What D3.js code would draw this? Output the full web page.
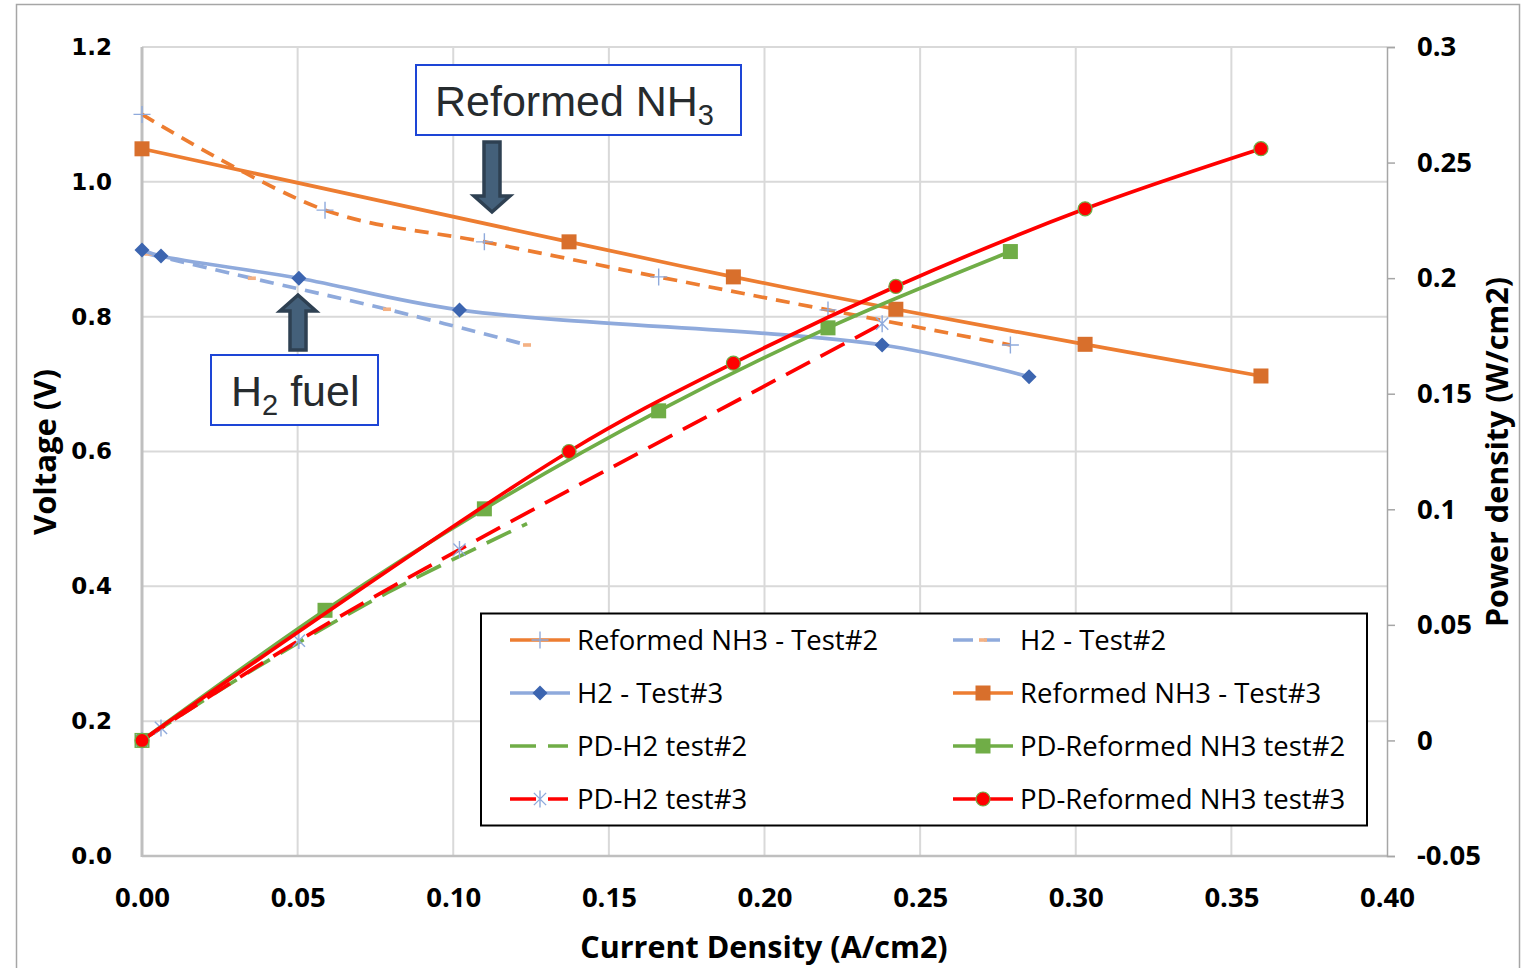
<!DOCTYPE html>
<html>
<head>
<meta charset="utf-8">
<script src="https://cdn.jsdelivr.net/npm/d3@7"></script>
<style>
  body { margin: 0; background: #fff; }
  svg { display: block; }
</style>
</head>
<body>
<svg id="chart" width="1535" height="968"></svg>
<script>
// ---- Polarization data (current density in A/cm2, voltage in V) ----
const reformedT2I = [0, 0.0588, 0.110, 0.166, 0.2204, 0.279];
const reformedT2V = [1.100, 0.958, 0.911, 0.859, 0.810, 0.758];

const h2T2I = [0.002, 0.0353, 0.0787, 0.1237];
const h2T2V = [0.893, 0.857, 0.811, 0.758];

const h2T3I = [0, 0.0061, 0.0504, 0.102, 0.2378, 0.285];
const h2T3V = [0.899, 0.890, 0.857, 0.810, 0.758, 0.711];

const reformedT3I = [0, 0.1372, 0.190, 0.2422, 0.303, 0.3595];
const reformedT3V = [1.049, 0.911, 0.859, 0.811, 0.759, 0.712];

// ---- Power density data (W/cm2) ----
const pdH2T2I = [0.002, 0.0353, 0.0787, 0.1237];
const pdH2T2P = [0.0018, 0.0303, 0.0638, 0.0938];

const pdReformedT2I = [0, 0.0588, 0.110, 0.166, 0.2204, 0.279];
const pdReformedT2P = [0, 0.0563, 0.1002, 0.1426, 0.1785, 0.2115];

const pdH2T3I = [0, 0.0061, 0.0504, 0.102, 0.2378];
const pdH2T3P = [0, 0.0054, 0.0432, 0.0826, 0.1803];

const pdReformedT3I = [0, 0.1372, 0.190, 0.2422, 0.303, 0.3595];
const pdReformedT3P = [0, 0.1250, 0.1632, 0.1964, 0.2300, 0.2560];

// ---- Axis ticks ----
const currentTicks = [0, 0.05, 0.10, 0.15, 0.20, 0.25, 0.30, 0.35, 0.40];
const voltTicks = [0, 0.2, 0.4, 0.6, 0.8, 1.0, 1.2];
const powerTicks = [-0.05, 0, 0.05, 0.1, 0.15, 0.2, 0.25, 0.3];
const powerTickLabels = ["-0.05", "0", "0.05", "0.1", "0.15", "0.2", "0.25", "0.3"];

// ---- Layout ----
const svg = d3.select("#chart");
const plot = { left: 142, right: 1387, top: 47, bottom: 856 };

const x = d3.scaleLinear().domain([0, 0.4]).range([plot.left, plot.right]);
const yV = d3.scaleLinear().domain([0, 1.2]).range([plot.bottom, plot.top]);
const yP = d3.scaleLinear().domain([-0.05, 0.3]).range([plot.bottom, plot.top]);

const tickFont = "'Open Sans', 'DejaVu Sans', sans-serif";

// outer frame
svg.append("rect")
  .attr("x", 16.5).attr("y", 4.5).attr("width", 1503).attr("height", 990)
  .attr("fill", "#fff").attr("stroke", "#a6a6a6").attr("stroke-width", 1.5);

// gridlines
const grid = svg.append("g").attr("class", "grid");
grid.selectAll("line.h").data(voltTicks.filter(d => d > 0)).join("line")
  .attr("class", "h")
  .attr("x1", plot.left).attr("x2", plot.right)
  .attr("y1", d => yV(d)).attr("y2", d => yV(d))
  .attr("stroke", "#d9d9d9").attr("stroke-width", 2);
grid.selectAll("line.v").data(currentTicks.filter(d => d > 0 && d < 0.4)).join("line")
  .attr("class", "v")
  .attr("y1", plot.top).attr("y2", plot.bottom)
  .attr("x1", d => x(d)).attr("x2", d => x(d))
  .attr("stroke", "#d9d9d9").attr("stroke-width", 2);

// axis lines
svg.append("line").attr("x1", plot.left).attr("x2", plot.left)
  .attr("y1", plot.top).attr("y2", plot.bottom + 1)
  .attr("stroke", "#bfbfbf").attr("stroke-width", 3);
svg.append("line").attr("x1", plot.left).attr("x2", plot.right)
  .attr("y1", plot.bottom).attr("y2", plot.bottom)
  .attr("stroke", "#bfbfbf").attr("stroke-width", 2.5);

// left axis (voltage)
const gLeft = svg.append("g").attr("transform", `translate(${plot.left},0)`)
  .call(d3.axisLeft(yV).tickValues(voltTicks).tickFormat(d3.format(".1f")).tickSize(0).tickPadding(30));
gLeft.select(".domain").remove();
gLeft.selectAll("text")
  .attr("font-family", "'DejaVu Sans', sans-serif").attr("font-weight", "bold")
  .attr("font-size", 23).attr("fill", "#000");

// bottom axis (current density)
const gBottom = svg.append("g").attr("transform", `translate(0,${plot.bottom})`)
  .call(d3.axisBottom(x).tickValues(currentTicks).tickFormat(d3.format(".2f")).tickSize(0).tickPadding(31));
gBottom.select(".domain").remove();
gBottom.selectAll("text")
  .attr("font-family", tickFont).attr("font-weight", "bold")
  .attr("font-size", 27.5).attr("fill", "#000");

// right axis (power density)
const gRight = svg.append("g").attr("transform", `translate(${plot.right},0)`)
  .call(d3.axisRight(yP).tickValues(powerTicks).tickFormat((d, i) => powerTickLabels[i]).tickSize(8).tickPadding(22));
gRight.select(".domain").attr("stroke", "#a6a6a6").attr("stroke-width", 1.5);
gRight.selectAll(".tick line").attr("stroke", "#a6a6a6").attr("stroke-width", 1.5);
gRight.selectAll("text")
  .attr("font-family", tickFont).attr("font-weight", "bold")
  .attr("font-size", 27.5).attr("fill", "#000");

// axis titles
svg.append("text")
  .attr("x", 764).attr("y", 958)
  .attr("text-anchor", "middle")
  .attr("font-family", tickFont).attr("font-weight", "bold").attr("font-size", 30.5)
  .text("Current Density (A/cm2)");
svg.append("text")
  .attr("transform", "translate(56,452) rotate(-90)")
  .attr("text-anchor", "middle")
  .attr("font-family", tickFont).attr("font-weight", "bold").attr("font-size", 31)
  .text("Voltage (V)");
svg.append("text")
  .attr("transform", "translate(1508,452) rotate(-90)")
  .attr("text-anchor", "middle")
  .attr("font-family", tickFont).attr("font-weight", "bold").attr("font-size", 30.5)
  .text("Power density (W/cm2)");

// ---- Marker shapes ----
const markers = {
  square: (g, s, c) => g.append("rect").attr("x", -s / 2).attr("y", -s / 2).attr("width", s).attr("height", s).attr("fill", c.fill),
  diamond: (g, s, c) => g.append("path").attr("d", `M0,${-s / 2}L${s / 2},0L0,${s / 2}L${-s / 2},0Z`).attr("fill", c.fill),
  circle: (g, s, c) => g.append("circle").attr("r", s / 2).attr("fill", c.fill).attr("stroke", c.stroke).attr("stroke-width", 1.2),
  plus: (g, s, c) => g.append("path").attr("d", `M${-s / 2},0H${s / 2}M0,${-s / 2}V${s / 2}`).attr("stroke", c.fill).attr("stroke-width", 1.4).attr("fill", "none"),
  asterisk: (g, s, c) => {
    const r = s / 2, d = r * 0.72;
    g.append("path").attr("d", `M0,${-r}V${r}M${-d},${-d}L${d},${d}M${-d},${d}L${d},${-d}`)
      .attr("stroke", c.fill).attr("stroke-width", 1.4).attr("fill", "none");
  },
  dash: (g, s, c) => g.append("rect").attr("x", -s / 2).attr("y", -1.8).attr("width", s).attr("height", 3.6).attr("fill", c.fill),
  none: () => {}
};

// ---- Series definitions ----
const series = [
  { name: "Reformed NH3 - Test#2", xs: reformedT2I, ys: reformedT2V, axis: "V", color: "#ed7d31", dash: "14,9", legendDash: null, marker: "plus", mSize: 17, mColor: { fill: "#8faadc" } },
  { name: "H2 - Test#2", xs: h2T2I, ys: h2T2V, axis: "V", color: "#8faadc", dash: "14,9", legendDash: "20,11,16,20", marker: "dash", mSize: 8, mColor: { fill: "#f4b183" } },
  { name: "H2 - Test#3", xs: h2T3I, ys: h2T3V, axis: "V", color: "#8faadc", dash: null, marker: "diamond", mSize: 15, mColor: { fill: "#3c65b0" } },
  { name: "Reformed NH3 - Test#3", xs: reformedT3I, ys: reformedT3V, axis: "V", color: "#ed7d31", dash: null, marker: "square", mSize: 15, mColor: { fill: "#d86f2c" } },
  { name: "PD-H2 test#2", xs: pdH2T2I, ys: pdH2T2P, axis: "P", color: "#70ad47", dash: "27,12", legendDash: "26,12,20,20", marker: "none", mSize: 0, mColor: {} },
  { name: "PD-Reformed NH3 test#2", xs: pdReformedT2I, ys: pdReformedT2P, axis: "P", color: "#70ad47", dash: null, marker: "square", mSize: 15, mColor: { fill: "#70ad47" } },
  { name: "PD-H2 test#3", xs: pdH2T3I, ys: pdH2T3P, axis: "P", color: "#ff0000", dash: "27,12", legendDash: "26,12,20,20", marker: "asterisk", mSize: 17, mColor: { fill: "#8faadc" } },
  { name: "PD-Reformed NH3 test#3", xs: pdReformedT3I, ys: pdReformedT3P, axis: "P", color: "#ff0000", dash: null, marker: "circle", mSize: 14, mColor: { fill: "#ff0000", stroke: "#70ad47" } }
];

const curve = d3.curveCatmullRom.alpha(0.5);
const gSeries = svg.append("g").attr("class", "series");

series.forEach(s => {
  const yScale = s.axis === "V" ? yV : yP;
  const pts = s.xs.map((v, i) => [x(v), yScale(s.ys[i])]);
  const line = d3.line().curve(curve);
  const g = gSeries.append("g");
  g.append("path")
    .attr("d", line(pts))
    .attr("fill", "none")
    .attr("stroke", s.color)
    .attr("stroke-width", 3.7)
    .attr("stroke-linejoin", "round")
    .attr("stroke-dasharray", s.dash);
  pts.forEach(p => {
    const m = g.append("g").attr("transform", `translate(${p[0]},${p[1]})`);
    markers[s.marker](m, s.mSize, s.mColor);
  });
});

// ---- Legend ----
const legend = svg.append("g").attr("class", "legend");
legend.append("rect")
  .attr("x", 481).attr("y", 613.5).attr("width", 886).attr("height", 212)
  .attr("fill", "#fff").attr("stroke", "#000").attr("stroke-width", 2);

series.forEach((s, i) => {
  const col = i % 2, row = Math.floor(i / 2);
  const x0 = col === 0 ? 510 : 953;
  const cy = 640 + row * 53;
  const g = legend.append("g");
  g.append("line")
    .attr("x1", x0).attr("x2", x0 + 60).attr("y1", cy).attr("y2", cy)
    .attr("stroke", s.color).attr("stroke-width", 3.7)
    .attr("stroke-dasharray", s.legendDash || null);
  const m = g.append("g").attr("transform", `translate(${x0 + 30},${cy})`);
  markers[s.marker](m, s.mSize, s.mColor);
  g.append("text")
    .attr("x", x0 + 67).attr("y", cy)
    .attr("dy", "0.36em")
    .attr("font-family", tickFont).attr("font-size", 27.5).attr("fill", "#000")
    .text(s.name);
});

// ---- Callouts ----
function blockArrow(cx, tipY, baseY, dir) {
  // dir = 1 points down, -1 points up
  const shaftHalf = 8, headHalf = 18, headLen = 16;
  const neckY = tipY - dir * headLen;
  const d = `M${cx - shaftHalf},${baseY}L${cx - shaftHalf},${neckY}L${cx - headHalf},${neckY}` +
            `L${cx},${tipY}L${cx + headHalf},${neckY}L${cx + shaftHalf},${neckY}L${cx + shaftHalf},${baseY}Z`;
  svg.append("path").attr("d", d)
    .attr("fill", "#44607a").attr("stroke", "#2e4052").attr("stroke-width", 3.5)
    .attr("stroke-linejoin", "miter");
}

const calloutFont = "'Liberation Sans', Arial, sans-serif";

// Reformed NH3 callout
svg.append("rect").attr("x", 416).attr("y", 65).attr("width", 325).attr("height", 70)
  .attr("fill", "#fff").attr("stroke", "#1d45d6").attr("stroke-width", 2);
const t1 = svg.append("text").attr("x", 435).attr("y", 116)
  .attr("font-family", calloutFont).attr("font-size", 43).attr("fill", "#262b2e");
t1.append("tspan").text("Reformed NH");
t1.append("tspan").attr("font-size", 29).attr("dy", 9).text("3");
blockArrow(492, 212, 142, 1);

// H2 fuel callout
svg.append("rect").attr("x", 211).attr("y", 355).attr("width", 167).attr("height", 70)
  .attr("fill", "#fff").attr("stroke", "#1d45d6").attr("stroke-width", 2);
const t2 = svg.append("text").attr("x", 231).attr("y", 406)
  .attr("font-family", calloutFont).attr("font-size", 43).attr("fill", "#262b2e");
t2.append("tspan").text("H");
t2.append("tspan").attr("font-size", 29).attr("dy", 9).text("2");
t2.append("tspan").attr("dy", -9).text(" fuel");
blockArrow(298, 295, 350, -1);
</script>
</body>
</html>
